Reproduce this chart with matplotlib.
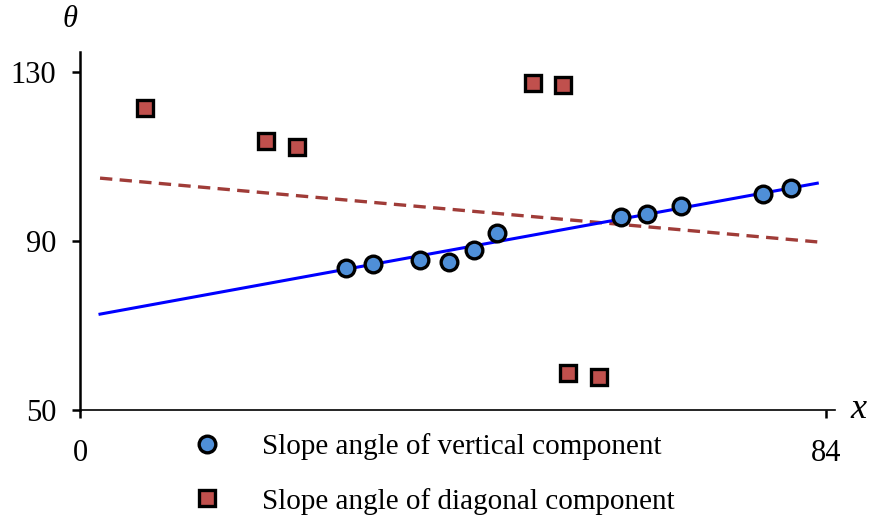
import numpy as np
import matplotlib
matplotlib.use('Agg')
import matplotlib.pyplot as plt
from matplotlib.lines import Line2D

# данные
vert_x = [29.9, 32.9, 38.2, 41.5, 44.3, 46.9, 60.9, 63.8, 67.6, 76.9, 80.0]
vert_y = [83.6, 84.6, 85.5, 85.0, 87.9, 91.9, 95.7, 96.4, 98.3, 101.1, 102.5]

diag_x = [7.3, 20.9, 24.4, 51.0, 54.4, 54.9, 58.4]
diag_y = [121.5, 113.7, 112.2, 127.4, 126.9, 58.8, 57.8]

# концы линий тренда
fit_x = [2.2, 83.0]
vert_fit_y = [72.7, 103.7]
diag_fit_y = [104.9, 89.8]

xticks = [0, 84]
yticks = [50, 90, 130]
labels = ['Slope angle of vertical component', 'Slope angle of diagonal component']

plt.rcParams['font.family'] = ['Liberation Serif', 'DejaVu Serif']

fig = plt.figure(figsize=(8.74, 5.2), dpi=100)
ax = fig.add_axes([0.0921, 0.2115, 0.8633, 0.688])

ax.plot(fit_x, diag_fit_y, color='#a03c38', lw=2.4, ls=(0, (3.7, 2.2)))
ax.plot(fit_x, vert_fit_y, color='#0000ff', lw=2.2)
ax.plot(vert_x, vert_y, 'o', ms=12, mfc='#4f8fd8', mec='black', mew=2.4, ls='none')
ax.plot(diag_x, diag_y, 's', ms=11, mfc='#c0504d', mec='black', mew=2.4, ls='none')

ax.set_xlim(0, 85)
ax.set_ylim(50, 134.7)
ax.set_xticks(xticks)
ax.set_yticks(yticks)
ax.tick_params(axis='y', direction='out', length=6, width=1.8, pad=11.5, labelsize=22)
ax.tick_params(axis='x', direction='out', length=6, width=1.8, pad=15, labelsize=22)

for s in ['top', 'right']:
    ax.spines[s].set_visible(False)
ax.spines['left'].set_linewidth(1.8)
ax.spines['bottom'].set_linewidth(1.2)

fig.text(0.08, 0.962, 'θ', fontsize=22, fontstyle='italic', ha='center', va='center')
fig.text(0.982, 0.212, 'x', fontsize=26, fontstyle='italic', ha='center', va='center')

handles = [
    Line2D([], [], marker='o', ls='none', ms=12, mfc='#4f8fd8', mec='black', mew=2.4),
    Line2D([], [], marker='s', ls='none', ms=11, mfc='#c0504d', mec='black', mew=2.4),
]
fig.legend(handles, labels, loc='upper left', bbox_to_anchor=(0.207, 0.19),
           frameon=False, fontsize=21, handlelength=1.0, handletextpad=1.38,
           labelspacing=0.95, borderaxespad=0)

fig.savefig('out.png', dpi=100)
